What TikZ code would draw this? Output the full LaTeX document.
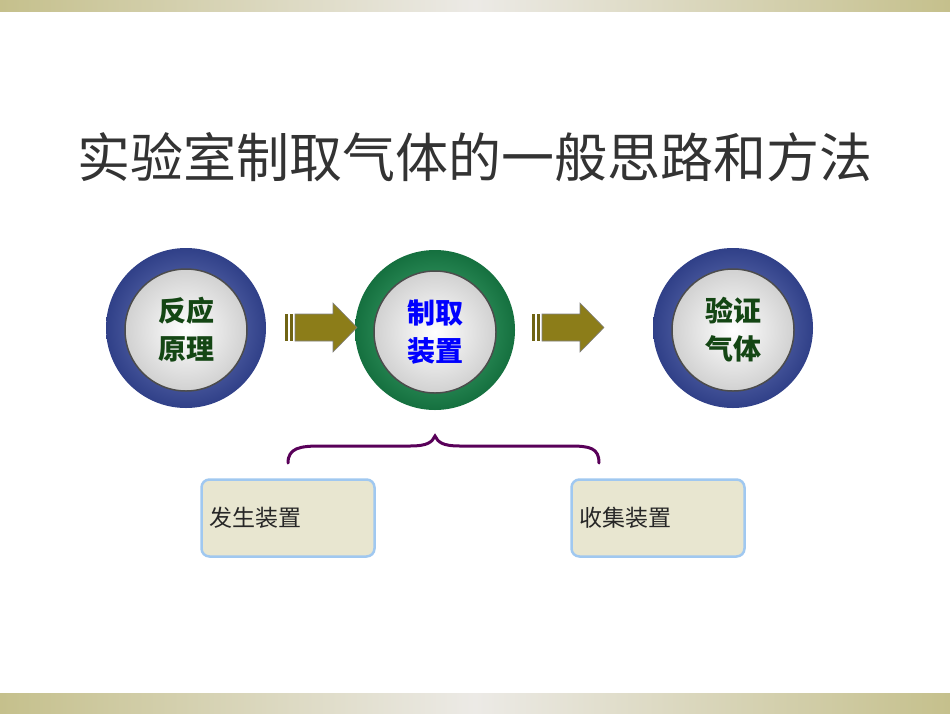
\documentclass[tikz,border=0pt]{standalone}
\usepackage{fontspec}
\newfontfamily\cjk{Noto Sans CJK SC}
\definecolor{band}{RGB}{197,192,140}
\definecolor{bandlight}{RGB}{236,234,230}
\definecolor{ringblue}{RGB}{60,80,170}
\definecolor{ringgreen}{RGB}{30,160,90}
\definecolor{olivearrow}{RGB}{140,125,25}
\definecolor{boxfill}{RGB}{232,230,208}
\definecolor{boxline}{RGB}{160,200,240}
\definecolor{txtgreen}{RGB}{20,70,20}
\tikzset{
  ringnode/.style={circle,minimum size=160pt,inner sep=0pt},
  innernode/.style={circle,minimum size=122pt,inner sep=0pt,draw=black!70,line width=1.5pt,inner color=white,outer color=black!18,font=\cjk\bfseries\fontsize{28}{38}\selectfont,align=center},
  arrowfill/.style={fill=olivearrow,draw=black!50,line width=0.6pt},
  infobox/.style={draw=boxline,line width=2.5pt,fill=boxfill,rounded corners=8pt,minimum width=173pt,minimum height=77pt,font=\cjk\fontsize{23}{26}\selectfont,text=black!85}
}
\begin{document}
\begin{tikzpicture}[x=1pt,y=-1pt]
\useasboundingbox (0,0) rectangle (950,713);
\fill[white] (0,0) rectangle (950,713);
\shade[left color=band,right color=bandlight] (0,0) rectangle (475,11);
\shade[left color=bandlight,right color=band] (475,0) rectangle (950,11);
\shade[left color=band,right color=bandlight] (0,693) rectangle (475,713);
\shade[left color=bandlight,right color=band] (475,693) rectangle (950,713);
\node[font=\cjk\fontsize{53}{58}\selectfont,text=black!80] (title) at (475,157) {实验室制取气体的一般思路和方法};
% circles
\node[ringnode,inner color=ringblue!70,outer color=ringblue!80!black] (c1) at (186,328) {};
\node[innernode,text=txtgreen] (i1) at (186,330) {反应\\原理};
\node[ringnode,inner color=ringgreen!80,outer color=ringgreen!70!black] (c2) at (435,330) {};
\node[innernode,text=blue] (i2) at (435,332) {制取\\装置};
\node[ringnode,inner color=ringblue!70,outer color=ringblue!80!black] (c3) at (733,328) {};
\node[innernode,text=txtgreen] (i3) at (733,330) {验证\\气体};
% arrows
\foreach \x in {285,532}{
  \fill[olivearrow!80!black] (\x,314) rectangle ++(3,27);
  \fill[olivearrow!80!black] (\x+5,314) rectangle ++(3,27);
  \path[arrowfill] (\x+10,314) -- (\x+48,314) -- (\x+48,303) -- (\x+72,327.5) -- (\x+48,352) -- (\x+48,341) -- (\x+10,341) -- cycle;
}
% brace
\coordinate (bl) at (288,463);
\coordinate (bt) at (435,436);
\coordinate (br) at (599,463);
\draw[violet!70!black,line width=3pt,line cap=round] (bl) .. controls (288,448) and (300,446) .. (320,446) -- (410,446) .. controls (428,446) and (432,442) .. (bt) .. controls (438,442) and (442,446) .. (460,446) -- (570,446) .. controls (590,446) and (599,448) .. (br);
% boxes
\node[infobox,text width=157pt,align=left] (b1) at (288,518) {发生装置};
\node[infobox,text width=157pt,align=left] (b2) at (658,518) {收集装置};
\end{tikzpicture}
\end{document}
